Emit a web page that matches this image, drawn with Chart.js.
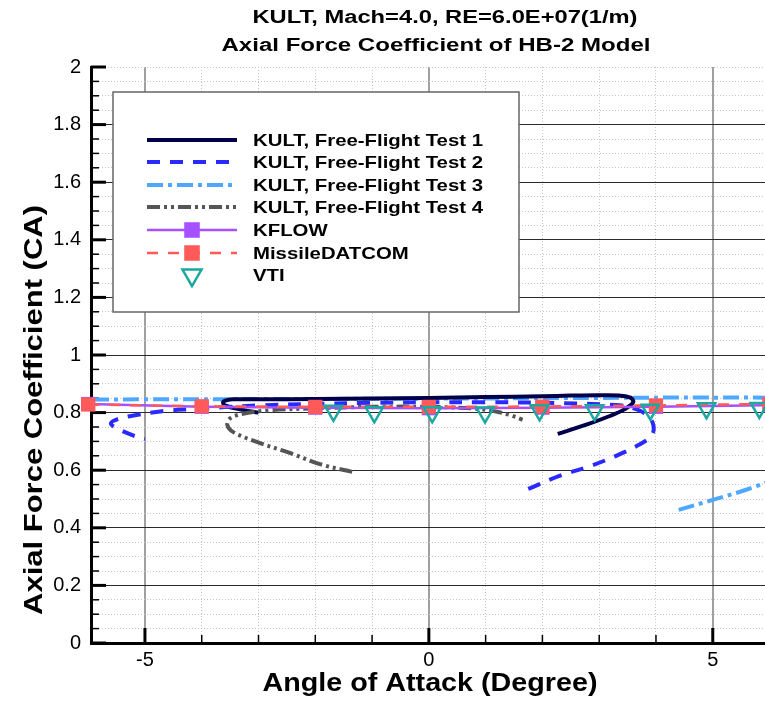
<!DOCTYPE html>
<html>
<head>
<meta charset="utf-8">
<script src="https://cdn.jsdelivr.net/npm/chart.js@4.4.0/dist/chart.umd.min.js"></script>
<style>
  html, body { margin: 0; padding: 0; background: #fff; }
  canvas { display: block; }
</style>
</head>
<body>
<canvas id="chart" width="765" height="702"></canvas>
<script>
// chart values
var titleLines = ['KULT, Mach=4.0, RE=6.0E+07(1/m)', 'Axial Force Coefficient of HB-2 Model'];
var xTitle = 'Angle of Attack (Degree)';
var yTitle = 'Axial Force Coefficient (CA)';
var seriesNames = ['KULT, Free-Flight Test 1', 'KULT, Free-Flight Test 2', 'KULT, Free-Flight Test 3',
                   'KULT, Free-Flight Test 4', 'KFLOW', 'MissileDATCOM', 'VTI'];
var xTickLabels = [-5, 0, 5];
var yTickLabels = [0, 0.2, 0.4, 0.6, 0.8, 1, 1.2, 1.4, 1.6, 1.8, 2];

var test1X = [2.27, 2.8, 3.2, 3.45, 3.6, 3.55, 3.35, 3.0, 2.5, 2.0, 1.0, 0.0, -1.0, -2.0, -3.0, -3.45, -3.62, -3.6, -3.35, -3.0];
var test1Y = [0.726, 0.76, 0.789, 0.812, 0.836, 0.852, 0.859, 0.86, 0.859, 0.857, 0.854, 0.851, 0.849, 0.847, 0.846, 0.846, 0.838, 0.826, 0.812, 0.800];

var test2X = [1.75, 2.3, 2.85, 3.3, 3.7, 3.92, 3.96, 3.88, 3.65, 3.3, 2.0, 1.0, 0.0, -1.0, -2.0, -3.0, -4.2, -4.7, -5.2, -5.5, -5.6, -5.5, -5.2, -5.0];
var test2Y = [0.535, 0.58, 0.615, 0.65, 0.688, 0.72, 0.75, 0.785, 0.812, 0.826, 0.834, 0.836, 0.836, 0.834, 0.83, 0.825, 0.812, 0.805, 0.79, 0.776, 0.762, 0.746, 0.72, 0.708];

var test3X = [4.4, 5.0, 5.6, 6.2, 6.7, 6.9, 6.7, 6.2, 5.0, 3.0, 1.0, -1.0, -3.0, -5.0, -6.2];
var test3Y = [0.462, 0.497, 0.533, 0.58, 0.65, 0.75, 0.82, 0.848, 0.852, 0.851, 0.849, 0.848, 0.847, 0.846, 0.845];

var test4X = [-1.35, -1.9, -2.45, -3.03, -3.45, -3.55, -3.5, -3.3, -2.8, -2.0, -1.0, 0.0, 0.8, 1.2, 1.45, 1.65];
var test4Y = [0.594, 0.62, 0.66, 0.698, 0.733, 0.758, 0.78, 0.795, 0.808, 0.815, 0.82, 0.82, 0.814, 0.803, 0.79, 0.775];

var kflowX = [-6, -4, -2, 0, 2, 4, 6];
var kflowY = [0.83, 0.82, 0.817, 0.815, 0.817, 0.82, 0.826];

var datcomX = [-6, -4, -2, 0, 2, 4, 6];
var datcomY = [0.828, 0.822, 0.82, 0.82, 0.821, 0.825, 0.83];

var vtiX = [-1.68, -0.96, 0.06, 0.99, 1.95, 2.92, 3.9, 4.89, 5.82];
var vtiY = [0.806, 0.801, 0.801, 0.80, 0.808, 0.808, 0.81, 0.815, 0.816];

function pairs(xs, ys) {
  return xs.map(function(x, i) { return { x: x, y: ys[i] }; });
}
function isMult(v, step) {
  return Math.abs(v / step - Math.round(v / step)) < 1e-6;
}

// draw text squeezed/stretched to a given width
function fitText(ctx, text, cx, cy, font, width, rotate) {
  ctx.save();
  ctx.font = font;
  ctx.fillStyle = '#000';
  ctx.textAlign = 'center';
  ctx.textBaseline = 'middle';
  var w = ctx.measureText(text).width;
  ctx.translate(cx, cy);
  if (rotate) ctx.rotate(-Math.PI / 2);
  ctx.scale(width / w, 1);
  ctx.fillText(text, 0, 0);
  ctx.restore();
}

var decorPlugin = {
  id: 'decor',
  beforeDatasetsDraw: function(chart) {
    // inward tick marks
    var ctx = chart.ctx, xs = chart.scales.x, ys = chart.scales.y, a = chart.chartArea;
    ctx.save();
    ctx.strokeStyle = '#000';
    ys.ticks.forEach(function(t) {
      var py = ys.getPixelForValue(t.value);
      var major = isMult(t.value, 0.2);
      ctx.lineWidth = major ? 3 : 1.5;
      ctx.beginPath();
      ctx.moveTo(a.left, py);
      ctx.lineTo(a.left + (major ? 15 : 8), py);
      ctx.stroke();
    });
    xs.ticks.forEach(function(t) {
      var px = xs.getPixelForValue(t.value);
      var major = isMult(t.value, 5);
      ctx.lineWidth = major ? 3 : 1.5;
      ctx.beginPath();
      ctx.moveTo(px, a.bottom);
      ctx.lineTo(px, a.bottom - (major ? 15 : 8));
      ctx.stroke();
    });
    ctx.restore();
  },
  afterDraw: function(chart) {
    var ctx = chart.ctx;
    fitText(ctx, titleLines[0], 445, 18, 'bold 18px "Liberation Sans"', 385, false);
    fitText(ctx, titleLines[1], 436, 46, 'bold 18px "Liberation Sans"', 429, false);
    fitText(ctx, xTitle, 430, 684, 'bold 25px "Liberation Sans"', 335, false);
    fitText(ctx, yTitle, 35, 410, 'bold 25px "Liberation Sans"', 410, true);

    // legend box
    var bx = 113, by = 92, bw = 406, bh = 220;
    ctx.save();
    ctx.fillStyle = '#fff';
    ctx.fillRect(bx, by, bw, bh);
    ctx.strokeStyle = '#666';
    ctx.lineWidth = 1.5;
    ctx.strokeRect(bx, by, bw, bh);
    ctx.font = 'bold 17px "Liberation Sans"';
    var sx = 230 / ctx.measureText(seriesNames[0]).width;
    var rowY = [140, 162, 185, 207, 230, 253, 275];
    chart.data.datasets.forEach(function(ds, i) {
      var y = rowY[i];
      if (ds.showLine !== false) {
        ctx.save();
        ctx.strokeStyle = ds.borderColor;
        ctx.lineWidth = ds.borderWidth;
        ctx.setLineDash(ds.borderDash || []);
        ctx.beginPath();
        ctx.moveTo(147, y);
        ctx.lineTo(237, y);
        ctx.stroke();
        ctx.restore();
      }
      if (ds.pointRadius > 0) {
        ctx.save();
        ctx.setLineDash([]);
        ctx.fillStyle = ds.pointBackgroundColor;
        ctx.strokeStyle = ds.pointBorderColor;
        ctx.lineWidth = ds.pointBorderWidth;
        Chart.helpers.drawPoint(ctx, {
          pointStyle: ds.pointStyle,
          rotation: ds.rotation || 0,
          radius: 11,
          borderWidth: ds.pointBorderWidth
        }, 192, y);
        ctx.restore();
      }
      ctx.save();
      ctx.fillStyle = '#000';
      ctx.textBaseline = 'middle';
      ctx.textAlign = 'left';
      ctx.translate(253, y + 1);
      ctx.scale(sx, 1);
      ctx.fillText(seriesNames[i], 0, 0);
      ctx.restore();
    });
    ctx.restore();
  }
};

var ctx = document.getElementById('chart').getContext('2d');
var chart = new Chart(ctx, {
  type: 'line',
  data: {
    datasets: [
      { label: seriesNames[0], data: pairs(test1X, test1Y), borderColor: '#00004a', borderWidth: 4,
        pointRadius: 0, tension: 0.35, order: 5 },
      { label: seriesNames[1], data: pairs(test2X, test2Y), borderColor: '#2a2aff', borderWidth: 4,
        borderDash: [13, 10], pointRadius: 0, tension: 0.35, order: 4 },
      { label: seriesNames[2], data: pairs(test3X, test3Y), borderColor: '#4ea8ff', borderWidth: 4,
        borderDash: [16, 5, 4, 5], pointRadius: 0, tension: 0.35, order: 6 },
      { label: seriesNames[3], data: pairs(test4X, test4Y), borderColor: '#555555', borderWidth: 4,
        borderDash: [13, 4, 3, 4, 3, 4], pointRadius: 0, tension: 0.35, order: 3 },
      { label: seriesNames[4], data: pairs(kflowX, kflowY), borderColor: '#a650ff', borderWidth: 2.5,
        pointStyle: 'rect', pointRadius: 10, pointBackgroundColor: '#a650ff', pointBorderColor: '#a650ff',
        pointBorderWidth: 0, tension: 0, clip: false, order: 2 },
      { label: seriesNames[5], data: pairs(datcomX, datcomY), borderColor: '#ff5a5a', borderWidth: 2.5,
        borderDash: [11, 10], pointStyle: 'rect', pointRadius: 10, pointBackgroundColor: '#ff5a5a',
        pointBorderColor: '#ff5a5a', pointBorderWidth: 0, tension: 0, clip: false, order: 1 },
      { label: seriesNames[6], data: pairs(vtiX, vtiY), showLine: false, borderColor: '#1aa8a0',
        pointStyle: 'triangle', rotation: 180, pointRadius: 10, pointBackgroundColor: 'rgba(0,0,0,0)',
        pointBorderColor: '#1aa8a0', pointBorderWidth: 2.5, order: 0 }
    ]
  },
  options: {
    responsive: false,
    animation: false,
    events: [],
    devicePixelRatio: 1,
    layout: { autoPadding: false, padding: { top: 67, right: 0, left: 0, bottom: 0 } },
    plugins: { legend: { display: false }, title: { display: false }, tooltip: { enabled: false } },
    scales: {
      x: {
        type: 'linear',
        min: -5.95,
        max: 5.92,
        afterFit: function(s) { s.height = 59; s.paddingLeft = 0; s.paddingRight = 0; },
        ticks: {
          stepSize: 1,
          includeBounds: false,
          maxRotation: 0,
          autoSkip: false,
          padding: 5,
          color: '#000',
          font: { family: 'Liberation Sans', size: 20 },
          callback: function(v) { return xTickLabels.indexOf(v) >= 0 ? String(v) : ''; }
        },
        grid: {
          drawTicks: false,
          color: function(c) { return c.tick && isMult(c.tick.value, 5) ? '#a0a0a0' : '#c4c4c4'; },
          lineWidth: function(c) { return c.tick && isMult(c.tick.value, 5) ? 2 : 1; }
        },
        border: {
          color: '#000',
          width: 3,
          dash: function(c) { return c.tick && !isMult(c.tick.value, 5) ? [1, 2] : []; }
        }
      },
      y: {
        type: 'linear',
        min: 0,
        max: 2,
        afterFit: function(s) { s.width = 91; s.paddingTop = 0; s.paddingBottom = 0; },
        ticks: {
          stepSize: 0.05,
          autoSkip: false,
          padding: 10,
          color: '#000',
          font: { family: 'Liberation Sans', size: 20 },
          callback: function(v) {
            var r = Math.round(v * 10) / 10;
            return isMult(v, 0.2) && yTickLabels.indexOf(r) >= 0 ? String(r) : '';
          }
        },
        grid: {
          drawTicks: false,
          color: function(c) {
            if (!c.tick) return '#c4c4c4';
            var v = c.tick.value;
            return isMult(v, 0.2) && v > 0.01 && v < 1.99 ? '#2a2a2a' : '#c4c4c4';
          },
          lineWidth: 1
        },
        border: {
          color: '#000',
          width: 3,
          dash: function(c) {
            if (!c.tick) return [];
            var v = c.tick.value;
            return isMult(v, 0.2) && v > 0.01 && v < 1.99 ? [] : [1, 2];
          }
        }
      }
    }
  },
  plugins: [decorPlugin]
});
</script>
</body>
</html>
